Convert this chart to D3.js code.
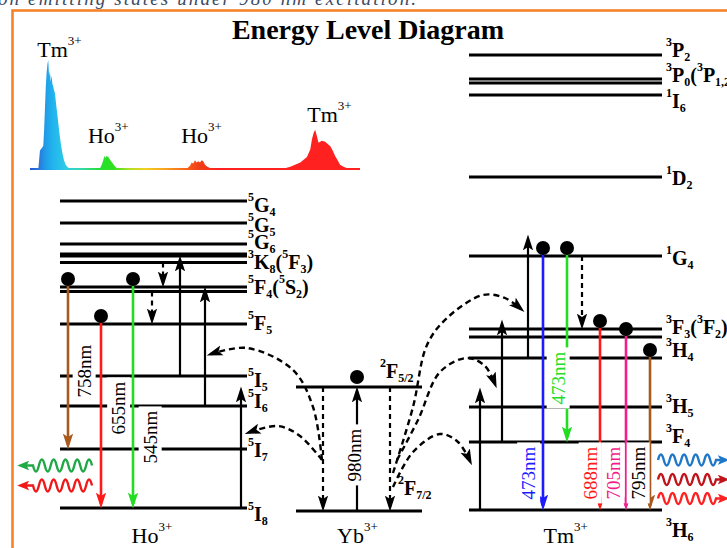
<!DOCTYPE html>
<html>
<head>
<meta charset="utf-8">
<script src="https://cdnjs.cloudflare.com/ajax/libs/d3/7.8.5/d3.min.js"></script>
<style>
body { margin: 0; background: #fff; }
svg { display: block; }
svg text { font-family: "Liberation Serif", "Times New Roman", serif; }
</style>
</head>
<body>
<svg id="chart" width="727" height="548"></svg>
<script>

//
// Data
//

// emission spectrum: wavelength (nm) and relative intensity
var spec_wl = [451, 461, 462, 463, 465, 467, 468, 469, 470, 471, 472, 473, 474, 475, 476, 477, 478, 479, 480, 481, 482, 483, 484, 486, 488, 490, 492, 494, 496, 499,
    535, 537, 539, 540, 541, 542, 543, 544, 545, 546, 548, 550, 552, 554, 557,
    638, 641, 644, 646, 648, 650, 652, 654, 656, 658, 660, 662, 665, 668, 671,
    755, 765, 777, 785, 789, 791, 793, 795, 797, 799, 801, 803, 807, 810, 813, 816, 819, 822, 825, 829, 833, 841, 849];
var spec_int = [0, 0, 0.08, 0.17, 0.19, 0.21, 0.35, 0.55, 0.75, 0.88, 0.96, 1.0, 0.85, 0.90, 0.80, 0.86, 0.78, 0.76, 0.72, 0.70, 0.63, 0.56, 0.50, 0.36, 0.24, 0.15, 0.08, 0.04, 0.02, 0,
    0, 0.03, 0.07, 0.10, 0.12, 0.10, 0.12, 0.11, 0.12, 0.10, 0.08, 0.06, 0.04, 0.02, 0,
    0, 0.01, 0.03, 0.06, 0.05, 0.08, 0.06, 0.07, 0.06, 0.08, 0.07, 0.04, 0.02, 0.01, 0,
    0, 0.02, 0.06, 0.11, 0.18, 0.27, 0.33, 0.36, 0.30, 0.24, 0.25, 0.26, 0.25, 0.23, 0.21, 0.17, 0.12, 0.08, 0.04, 0.02, 0.01, 0, 0];

var peak_wl = [473, 545, 655, 795];
var peak_ion = ["Tm^{3+}", "Ho^{3+}", "Ho^{3+}", "Tm^{3+}"];

// energy levels (relative energy, a.u.)
var ho_names  = ["5I8", "5I7", "5I6", "5I5", "5F5", "5S2", "5F4", "5F2", "5F3", "3K8", "5G6", "5G5", "5G4"];
var ho_energy = [0.2, 6.1, 10.4, 13.4, 18.6, 21.85, 22.3, 24.75, 25.4, 25.6, 26.6, 28.7, 30.9];
var yb_names  = ["2F7/2", "2F5/2"];
var yb_energy = [-0.1, 12.3];
var tm_names  = ["3H6", "3F4", "3H5", "3H4", "3F2", "3F3", "1G4", "1D2", "1I6", "3P1", "3P0", "3P2"];
var tm_energy = [0, 6.8, 10.3, 15.2, 17.3, 18.1, 25.4, 33.3, 41.5, 42.7, 43.1, 45.5];

// level labels: ion, level, text (^ = superscript, _ = subscript)
var level_labels = [
    ["Ho", "5G4", "^5G_4"], ["Ho", "5G5", "^5G_5"], ["Ho", "5G6", "^5G_6"],
    ["Ho", "3K8", "^3K_8(^5F_3)"], ["Ho", "5F4", "^5F_4(^5S_2)"], ["Ho", "5F5", "^5F_5"],
    ["Ho", "5I5", "^5I_5"], ["Ho", "5I6", "^5I_6"], ["Ho", "5I7", "^5I_7"], ["Ho", "5I8", "^5I_8"],
    ["Yb", "2F5/2", "^2F_{5/2}"], ["Yb", "2F7/2", "^2F_{7/2}"],
    ["Tm", "3P2", "^3P_2"], ["Tm", "3P0", "^3P_0(^3P_{1,2})"], ["Tm", "1I6", "^1I_6"],
    ["Tm", "1D2", "^1D_2"], ["Tm", "1G4", "^1G_4"], ["Tm", "3F3", "^3F_3(^3F_2)"],
    ["Tm", "3H4", "^3H_4"], ["Tm", "3H5", "^3H_5"], ["Tm", "3F4", "^3F_4"], ["Tm", "3H6", "^3H_6"]
];

// transitions: id, ion, kind, from level, to (level or energy), label, colour, label colour
var transitions = [
    ["h758", "Ho", "emit", "5F4", "5I7", "758nm", "brown", "black"],
    ["h655", "Ho", "emit", "5F5", "5I8", "655nm", "red", "black"],
    ["h545", "Ho", "emit", "5F4", "5I8", "545nm", "green", "black"],
    ["hnr1", "Ho", "relax", "5F2", "5F4"],
    ["hnr2", "Ho", "relax", "5S2", "5F5"],
    ["hup3", "Ho", "up", "5I5", "5F3"],
    ["hup2", "Ho", "up", "5I6", "5F4"],
    ["hup1", "Ho", "up", "5I8", 12.3],
    ["y980", "Yb", "pump", "2F7/2", "2F5/2", "980nm", "black", "black"],
    ["yd1", "Yb", "relax", "2F5/2", "2F7/2"],
    ["yd2", "Yb", "relax", "2F5/2", "2F7/2"],
    ["tup1", "Tm", "up", "3H6", 12.2],
    ["tup2", "Tm", "up", "3F4", 19.0],
    ["tup3", "Tm", "up", "3H4", 27.5],
    ["t473b", "Tm", "emit", "1G4", "3H6", "473nm", "blue", "blue"],
    ["t473g", "Tm", "emit", "1G4", "3F4", "473nm", "green", "green"],
    ["tnr", "Tm", "relax", "1G4", "3F3"],
    ["t688", "Tm", "emit", "3F3", "3H6", "688nm", "red", "red"],
    ["t705", "Tm", "emit", "3F2", "3H6", "705nm", "magenta", "magenta"],
    ["t795", "Tm", "emit", "3H4", "3H6", "795nm", "brown", "black"]
];

// energy transfer Yb -> Ho / Tm, points as [x, energy]
var transfer_paths = [
    [[322, 5.0], [313, 10.3], [293, 14.0], [247, 16.2], [211, 15.6]],
    [[322, 5.0], [300, 7.4], [278, 8.4], [249, 7.75]],
    [[393, 3.7], [413, 10.3], [427, 16.5], [447, 19.2], [483, 21.5], [505, 21.2], [521, 20.1]],
    [[397, 5.0], [418, 9.0], [440, 13.8], [467, 15.2], [485, 14.4], [495, 12.6]],
    [[393, 2.3], [413, 5.8], [440, 7.6], [458, 6.8], [470, 4.9]]
];

//
// Layout
//
var width = 727, height = 548;
var cols = {Ho: [60, 247], Yb: [296, 422], Tm: [469, 662]};
var trans_x = {h758: 68, h655: 101, h545: 133, hnr1: 163, hnr2: 152, hup3: 180, hup2: 205, hup1: 241,
    y980: 357, yd1: 323, yd2: 390, tup1: 480, tup2: 502, tup3: 528,
    t473b: 543, t473g: 567, tnr: 582, t688: 600, t705: 626, t795: 650};
var wl_label_pos = {h758: [84, 13.9], h655: [118.5, 10.2], h545: [150, 7.3], y980: [354, 5.5],
    t473b: [528.5, 3.7], t473g: [558, 13.2], t688: [590, 3.7], t705: [613, 3.7], t795: [638, 3.7]};
var label_x = {Ho: 248, Tm: 666};
var label_dy = {"5G4": 11, "5G5": 9, "5G6": 5, "3K8": 15, "5F4": 7, "5F5": 6, "5I5": 11, "5I6": 2, "5I7": 8, "5I8": 13,
    "2F5/2": -9, "2F7/2": -16,
    "3P2": 2, "3P0": 3, "1I6": 13, "1D2": 8, "1G4": 9, "3F3": 5, "3H4": -1, "3H5": 6, "3F4": 1, "3H6": 27};
var yb_label_x = {"2F5/2": 380, "2F7/2": 398};
var peak_label = [[-11, 57], [-20, 143], [-18, 143], [-8, 122]];

var colors = {black: "#000", brown: "#a85a1e", red: "#ff1a1a", green: "#22dd22", blue: "#1c1cff", magenta: "#f21c8c"};

var svg = d3.select("#chart");
var xs = d3.scaleLinear().domain([0, 727]).range([0, width]);
var ys = d3.scaleLinear().domain([0, 46]).range([510, 50]);
var sx = d3.scaleLinear().domain([451, 849]).range([30, 360]);
var sy = d3.scaleLinear().domain([0, 1]).range([169, 60]);

var levels = {
    Ho: d3.zip(ho_names, ho_energy),
    Yb: d3.zip(yb_names, yb_energy),
    Tm: d3.zip(tm_names, tm_energy)
};
function energy(ion, name) {
    if (typeof name === "number") return name;
    return levels[ion].find(function (d) { return d[0] === name; })[1];
}

// text with ^sup and _sub parts
function rich(g, str, x, y, size, small) {
    var t = g.append("text").attr("x", x).attr("y", y).style("font-size", size + "px");
    var shift = 0, i = 0;
    while (i < str.length) {
        var c = str[i], mode = "n", txt = "";
        if (c === "^" || c === "_") {
            mode = c; i++;
            if (str[i] === "{") { var j = str.indexOf("}", i); txt = str.slice(i + 1, j); i = j + 1; }
            else { txt = str[i]; i++; }
        } else {
            while (i < str.length && str[i] !== "^" && str[i] !== "_") { txt += str[i]; i++; }
        }
        var off = mode === "^" ? -0.55 * size : mode === "_" ? 0.2 * size : 0;
        t.append("tspan").attr("dy", off - shift).style("font-size", (mode === "n" ? size : small) + "px").text(txt);
        shift = off;
    }
    return t;
}

// markers
var defs = svg.append("defs");
function marker(id, color, len, w) {
    defs.append("marker").attr("id", id)
        .attr("markerUnits", "userSpaceOnUse")
        .attr("markerWidth", len + 2).attr("markerHeight", w + 2)
        .attr("viewBox", [0, 0, len, w].join(" "))
        .attr("refX", len - 4).attr("refY", w / 2)
        .attr("orient", "auto")
        .append("path")
        .attr("d", "M0,0 L" + len + "," + (w / 2) + " L0," + w + " L" + (len * 0.22) + "," + (w / 2) + " Z")
        .attr("fill", color);
}
Object.keys(colors).forEach(function (k) { marker("arr-" + k, colors[k], 14, 9); });
marker("wave-green", "#1fa845", 10, 8);
marker("wave-red", "#f01818", 10, 8);
marker("wave-blue", "#1f77c8", 10, 8);
marker("wave-dred", "#c0141a", 10, 8);
marker("wave-red2", "#ff2020", 10, 8);

//
// Frame and title
//
svg.append("text").attr("x", -2).attr("y", 5)
    .style("font-size", "19px").style("font-style", "italic").attr("fill", "#3b4a66")
    .attr("textLength", 418)
    .text("on emitting states under 980 nm excitation.");

svg.append("rect").attr("x", 12.5).attr("y", 10.5).attr("width", 760).attr("height", 600)
    .attr("fill", "#fff").attr("stroke", "#f4832a").attr("stroke-width", 2.6);

svg.append("text").attr("x", 368).attr("y", 39).attr("text-anchor", "middle")
    .style("font-size", "28px").style("font-weight", "bold")
    .text("Energy Level Diagram");

//
// Spectrum
//
var grad_stops = [[451, "#2458d4"], [462, "#2a78dc"], [470, "#1f9ee8"], [480, "#22b6ee"], [495, "#30cce4"],
    [515, "#38d8a0"], [535, "#22e030"], [552, "#30e020"], [570, "#b0e020"], [590, "#f0d020"],
    [615, "#f8a020"], [640, "#f86018"], [655, "#f04018"], [680, "#ff2020"], [849, "#ff2020"]];
var grad = defs.append("linearGradient").attr("id", "spec")
    .attr("gradientUnits", "userSpaceOnUse")
    .attr("x1", sx(451)).attr("x2", sx(849)).attr("y1", 0).attr("y2", 0);
grad.selectAll("stop").data(grad_stops).enter().append("stop")
    .attr("offset", function (d) { return (sx(d[0]) - sx(451)) / (sx(849) - sx(451)); })
    .attr("stop-color", function (d) { return d[1]; });

var spec = d3.zip(spec_wl, spec_int);
svg.append("path").datum(spec)
    .attr("d", d3.area().x(function (d) { return sx(d[0]); }).y0(sy(0)).y1(function (d) { return sy(d[1]); }))
    .attr("fill", "url(#spec)");
svg.append("line").attr("x1", sx(451)).attr("x2", sx(849)).attr("y1", sy(0)).attr("y2", sy(0))
    .attr("stroke", "url(#spec)").attr("stroke-width", 2);

var gs = svg.append("g");
peak_wl.forEach(function (wl, i) {
    rich(gs, peak_ion[i], sx(wl) + peak_label[i][0], peak_label[i][1], 22, 13);
});

//
// Levels
//
var gl = svg.append("g");
Object.keys(levels).forEach(function (ion) {
    gl.selectAll(null).data(levels[ion]).enter().append("line")
        .attr("x1", xs(cols[ion][0])).attr("x2", xs(cols[ion][1]))
        .attr("y1", function (d) { return ys(d[1]); })
        .attr("y2", function (d) { return ys(d[1]); })
        .attr("stroke", "#000").attr("stroke-width", 2.8);
});

var glab = svg.append("g").style("font-weight", "bold");
level_labels.forEach(function (d) {
    var ion = d[0], y = ys(energy(ion, d[1])) + label_dy[d[1]];
    var x = ion === "Yb" ? yb_label_x[d[1]] : label_x[ion];
    rich(glab, d[2], xs(x), y, 20, 12);
});

// ion names
var gi = svg.append("g");
["Ho", "Yb", "Tm"].forEach(function (ion) {
    var cx = xs((cols[ion][0] + cols[ion][1]) / 2);
    rich(gi, ion + "^{3+}", cx - 22, 543, 22, 13);
});

//
// Transitions
//
var ga = svg.append("g");
var gdots = svg.append("g");
transitions.forEach(function (t) {
    var id = t[0], ion = t[1], kind = t[2];
    var x = xs(trans_x[id]);
    var y0 = ys(energy(ion, t[3])), y1 = ys(energy(ion, t[4]));
    var col = t[6] || "black";
    var dir = y1 > y0 ? 1 : -1;
    var start = kind === "emit" ? y0 - 8 : y0;
    var line = ga.append("line")
        .attr("x1", x).attr("x2", x)
        .attr("y1", start).attr("y2", y1 - dir * 4)
        .attr("stroke", colors[col])
        .attr("stroke-width", kind === "emit" ? 2.6 : 2.2)
        .attr("marker-end", "url(#arr-" + col + ")");
    if (kind === "relax") line.attr("stroke-dasharray", "5,4");
    if (kind === "emit") gdots.append("circle").attr("cx", x).attr("cy", y0 - 8).attr("r", 7).attr("fill", "#000");
    if (kind === "pump") gdots.append("circle").attr("cx", x).attr("cy", y1 - 10).attr("r", 7).attr("fill", "#000");

    if (t[5]) {
        var p = wl_label_pos[id];
        var g = svg.append("g").attr("transform", "translate(" + xs(p[0]) + "," + ys(p[1]) + ") rotate(-90)");
        var txt = g.append("text").attr("text-anchor", "middle").attr("dy", "0.35em")
            .style("font-size", "19px").attr("fill", colors[t[7]]).text(t[5]);
        var bb = txt.node().getBBox();
        g.insert("rect", "text").attr("x", bb.x - 4).attr("y", bb.y - 1)
            .attr("width", bb.width + 8).attr("height", bb.height + 2).attr("fill", "#fff");
    }
});

// energy transfer curves
var curve = d3.line()
    .x(function (d) { return xs(d[0]); })
    .y(function (d) { return ys(d[1]); })
    .curve(d3.curveCatmullRom.alpha(0.5));
ga.selectAll("path.transfer").data(transfer_paths).enter().append("path")
    .attr("class", "transfer")
    .attr("d", curve)
    .attr("fill", "none").attr("stroke", "#000").attr("stroke-width", 2.4)
    .attr("stroke-dasharray", "6,4")
    .attr("marker-end", "url(#arr-black)");

//
// Wavy emission arrows
//
function wave(x0, xw, xend, yc, amp, halves, color, mk) {
    var p = d3.path(), step = (xw - x0) / halves, sgn = -1, x = x0;
    p.moveTo(x0, yc);
    for (var k = 0; k < halves; k++) {
        p.quadraticCurveTo(x + step / 2, yc + sgn * 2 * amp, x + step, yc);
        x += step; sgn = -sgn;
    }
    p.lineTo(xend, yc);
    svg.append("path").attr("d", p.toString()).attr("fill", "none")
        .attr("stroke", color).attr("stroke-width", 2.4)
        .attr("marker-end", "url(#" + mk + ")");
}
wave(92, 33, 22, 465.5, 6, 10, "#1fa845", "wave-green");
wave(92, 33, 22, 485.5, 6, 10, "#f01818", "wave-red");
wave(658, 716, 725, 460, 5.5, 10, "#1f77c8", "wave-blue");
wave(658, 716, 725, 479.5, 5.5, 10, "#c0141a", "wave-dred");
wave(658, 716, 725, 498.5, 5.5, 10, "#ff2020", "wave-red2");

</script>
</body>
</html>
